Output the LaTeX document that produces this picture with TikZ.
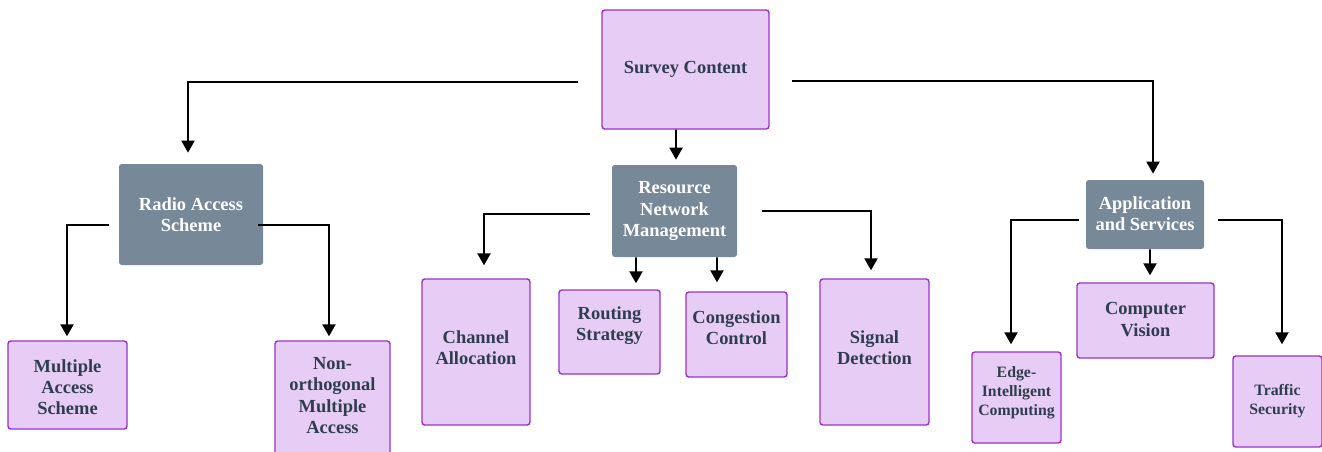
\documentclass[tikz,border=0pt]{standalone}
\usepackage{fontspec}
\setmainfont{Liberation Serif}
\usetikzlibrary{calc,arrows.meta}
\definecolor{leaffill}{HTML}{E7CDF5}
\definecolor{leafdraw}{HTML}{9932CC}
\definecolor{headfill}{HTML}{778899}
\definecolor{inktext}{HTML}{2F3E4F}
\tikzset{
	leaf/.style={draw=leafdraw, fill=leaffill, line width=0.8pt, rounded corners=1.6pt, inner sep=0pt},
	head/.style={fill=headfill, rounded corners=1.6pt, inner sep=0pt},
	leaftext/.style={inner sep=0pt, align=center, text=inktext, font=\bfseries\fontsize{10.5}{12}\selectfont},
	headtext/.style={inner sep=0pt, align=center, text=white, font=\bfseries\fontsize{10.5}{12}\selectfont},
	small/.style={font=\bfseries\fontsize{9}{10.8}\selectfont},
	sz/.style 2 args={minimum width=#1*0.02cm, minimum height=#2*0.02cm},
	link/.style={line width=1.1pt, -{Triangle[width=7.4pt,length=6.8pt]}},
}

\begin{document}
\begin{tikzpicture}[x=0.02cm, y=-0.02cm]
			%%%%% START %%%%%
			\useasboundingbox (0, 0) rectangle (1322, 451);
			
			\node[leaf, sz={167}{119}] (survey) at (685.5, 69.5) {};
			\node[leaftext] (survey-t) at (survey) {Survey Content};
			
			\node[head, sz={144}{101}] (radio) at (191, 214.5) {};
			\node[headtext] (radio-t) at (radio) {Radio Access\\Scheme};
			\node[head, sz={125}{92}] (rnm) at (674.5, 211) {};
			\node[headtext] (rnm-t) at (rnm) {Resource\\Network\\Management};
			\node[head, sz={118}{69}] (app) at (1145, 214.5) {};
			\node[headtext] (app-t) at ($(app)+(0,-1)$) {Application\\and Services};
			
			\node[leaf, sz={119}{88}] (mas) at (67.5, 385) {};
			\node[leaftext] (mas-t) at ($(mas)+(0,2)$) {Multiple\\Access\\Scheme};
			\node[leaf, sz={115}{115}] (noma) at (332.5, 398.5) {};
			\node[leaftext] (noma-t) at ($(noma)+(0,-3)$) {Non-\\orthogonal\\Multiple\\Access};
			
			\node[leaf, sz={108}{146}] (chan) at (476, 352) {};
			\node[leaftext] (chan-t) at ($(chan)+(0,-4)$) {Channel\\Allocation};
			\node[leaf, sz={101}{84}] (rout) at (609.5, 332) {};
			\node[leaftext] (rout-t) at ($(rout)+(0,-6)$) {Routing\\Strategy};
			\node[leaf, sz={101}{85}] (cong) at (736.5, 334.5) {};
			\node[leaftext] (cong-t) at ($(cong)+(0,-7)$) {Congestion\\Control};
			\node[leaf, sz={109}{146}] (sig) at (874.5, 352) {};
			\node[leaftext] (sig-t) at ($(sig)+(0,-4)$) {Signal\\Detection};
			
			\node[leaf, sz={89}{91}] (edge) at (1016.5, 397.5) {};
			\node[leaftext, small] (edge-t) at ($(edge)+(0,-5)$) {Edge-\\Intelligent\\Computing};
			\node[leaf, sz={137}{75}] (cv) at (1145.5, 320.5) {};
			\node[leaftext] (cv-t) at ($(cv)+(0,-1)$) {Computer\\Vision};
			\node[leaf, sz={89}{91}] (traf) at (1277.5, 401.5) {};
			\node[leaftext, small] (traf-t) at (traf) {Traffic\\Security};
			
			\draw[link] ($(survey.west)+(-23,12.5)$) -| ($(radio.north)+(-3,-11)$);
			\draw[link] ($(survey.south)+(-9.5,0)$) -- ($(rnm.north)+(1.5,-5)$);
			\draw[link] ($(survey.east)+(22,11.5)$) -| ($(app.north)+(8,-6)$);
			
			\draw[link] ($(radio.west)+(-10,10.5)$) -| ($(mas.north)+(-0.5,-4)$);
			\draw[link] ($(radio.east)+(-5,10.5)$) -| ($(noma.north)+(-3.5,-4)$);
			
			\draw[link] ($(rnm.west)+(-22,3)$) -| ($(chan.north)+(8,-13)$);
			\draw[link] ($(rnm.south)+(-38.5,0)$) -- ($(rout.north)+(26.5,-6)$);
			\draw[link] ($(rnm.south)+(42.5,0)$) -- ($(cong.north)+(-19.5,-9)$);
			\draw[link] ($(rnm.east)+(25,0)$) -| ($(sig.north)+(-3.5,-8)$);
			
			\draw[link] ($(app.west)+(-7,5.5)$) -| ($(edge.north)+(-5.5,-7)$);
			\draw[link] ($(app.south)+(5,0)$) -- ($(cv.north)+(4.5,-7)$);
			\draw[link] ($(app.east)+(14,5.5)$) -| ($(traf.north)+(4.5,-11)$);
			
			%%%%% END %%%%%
\end{tikzpicture}
\end{document}
